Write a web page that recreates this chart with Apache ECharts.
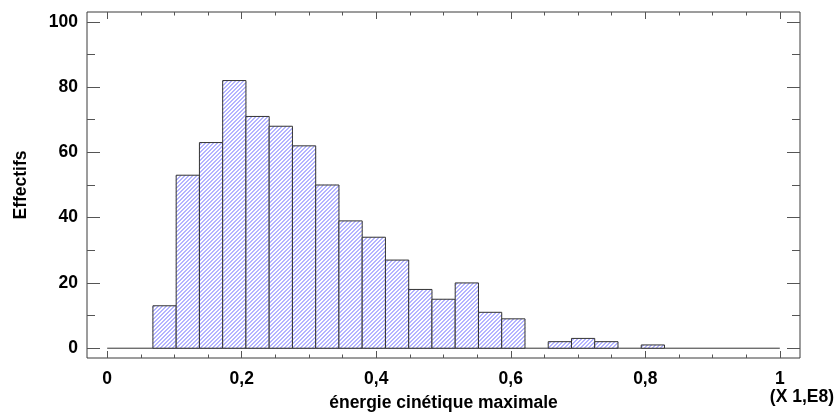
<!DOCTYPE html>
<html>
<head>
<meta charset="utf-8">
<script src="https://cdn.jsdelivr.net/npm/echarts@6/dist/echarts.min.js"></script>
<style>
  html, body { margin: 0; padding: 0; background: #fff; }
  #chart { width: 838px; height: 417px; }
</style>
</head>
<body>
<div id="chart"></div>
<script>
// histogram bins (x in units of 1E8)
const binStart = 0.068;
const binWidth = 0.03457;
const counts = [13, 53, 63, 82, 71, 68, 62, 50, 39, 34, 27, 18, 15, 20, 11, 9, 0, 2, 3, 2, 0, 1];

const xMajor = [0, 0.2, 0.4, 0.6, 0.8, 1];
const xMinor = [0.05, 0.1, 0.15, 0.25, 0.3, 0.35, 0.45, 0.5, 0.55, 0.65, 0.7, 0.75, 0.85, 0.9, 0.95];
const yMajor = [0, 20, 40, 60, 80, 100];
const yMinor = [10, 30, 50, 70, 90];
const baseline = [[0, 0], [1, 0]];

const font = "'Liberation Sans', Arial, sans-serif";
const HATCH_STEP = 4;
const HATCH_PHASE = 0.5;

const bins = counts.map((c, i) => [binStart + i * binWidth, binStart + (i + 1) * binWidth, c]);

// "/" hatch lines (x + y = K, same phase for every bar), clipped to the bar
function hatchPath(xl, yt, w, h) {
  const xr = xl + w, yb = yt + h;
  let d = "";
  const k0 = Math.ceil((xl + yt) / HATCH_STEP) * HATCH_STEP + HATCH_PHASE;
  for (let k = k0; k <= xr + yb; k += HATCH_STEP) {
    const xa = Math.max(xl, k - yb), xb = Math.min(xr, k - yt);
    if (xb <= xa) continue;
    d += `M${xa} ${k - xa}L${xb} ${k - xb}`;
  }
  return d;
}

const chart = echarts.init(document.getElementById("chart"));

const xBase = {
  type: "value", min: -0.03, max: 1.03, gridIndex: 0,
  axisLine: { show: false, onZero: false }, splitLine: { show: false },
};
const yBase = {
  type: "value", min: -3, max: 103, gridIndex: 0,
  axisLine: { show: false, onZero: false }, splitLine: { show: false },
};
const tickStyle = { color: "#555", width: 1 };

chart.setOption({
  animation: false,
  grid: { left: 87, right: 38, top: 12, bottom: 55, show: true, borderColor: "#3a3a3a", borderWidth: 1 },
  xAxis: [
    {
      ...xBase, position: "bottom",
      name: "énergie cinétique maximale", nameLocation: "middle", nameGap: 36,
      nameTextStyle: { fontFamily: font, fontWeight: "bold", fontSize: 17.5, color: "#000" },
      axisTick: { inside: true, length: 7, lineStyle: tickStyle, customValues: xMajor },
      axisLabel: {
        customValues: xMajor, margin: 12, fontFamily: font, fontWeight: "bold", fontSize: 17.5, color: "#000",
        formatter: v => String(v).replace(".", ","),
      },
    },
    { ...xBase, position: "bottom", axisTick: { inside: true, length: 3.5, lineStyle: tickStyle, customValues: xMinor }, axisLabel: { show: false } },
    { ...xBase, position: "top", axisTick: { inside: true, length: 7, lineStyle: tickStyle, customValues: xMajor }, axisLabel: { show: false } },
    { ...xBase, position: "top", axisTick: { inside: true, length: 3.5, lineStyle: tickStyle, customValues: xMinor }, axisLabel: { show: false } },
  ],
  yAxis: [
    {
      ...yBase, position: "left",
      name: "Effectifs", nameLocation: "middle", nameGap: 57, nameRotate: 90,
      nameTextStyle: { fontFamily: font, fontWeight: "bold", fontSize: 17.5, color: "#000" },
      axisTick: { inside: true, length: 13, lineStyle: tickStyle, customValues: yMajor },
      axisLabel: { customValues: yMajor, margin: 9, fontFamily: font, fontWeight: "bold", fontSize: 17.5, color: "#000" },
    },
    { ...yBase, position: "left", axisTick: { inside: true, length: 8, lineStyle: tickStyle, customValues: yMinor }, axisLabel: { show: false } },
    { ...yBase, position: "right", axisTick: { inside: true, length: 13, lineStyle: tickStyle, customValues: yMajor }, axisLabel: { show: false } },
    { ...yBase, position: "right", axisTick: { inside: true, length: 8, lineStyle: tickStyle, customValues: yMinor }, axisLabel: { show: false } },
  ],
  graphic: [
    {
      type: "text", right: 4, top: 388,
      style: { text: "(X 1,E8)", fontFamily: font, fontWeight: "bold", fontSize: 17.5, fill: "#000" },
    },
  ],
  series: [
    {
      type: "line",
      data: baseline,
      symbol: "none",
      lineStyle: { color: "#333", width: 1 },
      z: 1,
    },
    {
      type: "custom",
      data: bins,
      encode: { x: [0, 1], y: 2 },
      z: 2,
      renderItem: (params, api) => {
        if (api.value(2) <= 0) return;
        const p0 = api.coord([api.value(0), 0]);
        const p1 = api.coord([api.value(1), api.value(2)]);
        const x = p0[0], y = p1[1], w = p1[0] - p0[0], h = p0[1] - p1[1];
        return {
          type: "group",
          children: [
            { type: "rect", shape: { x, y, width: w, height: h }, style: { fill: "#fff" } },
            { type: "path", shape: { pathData: hatchPath(x, y, w, h) }, style: { fill: null, stroke: "#6a6aff", lineWidth: 1 } },
            { type: "rect", shape: { x, y, width: w, height: h }, style: { fill: null, stroke: "#333", lineWidth: 1 } },
          ],
        };
      },
    },
  ],
});

window.addEventListener("resize", () => {
  chart.resize();
});
</script>
</body>
</html>
